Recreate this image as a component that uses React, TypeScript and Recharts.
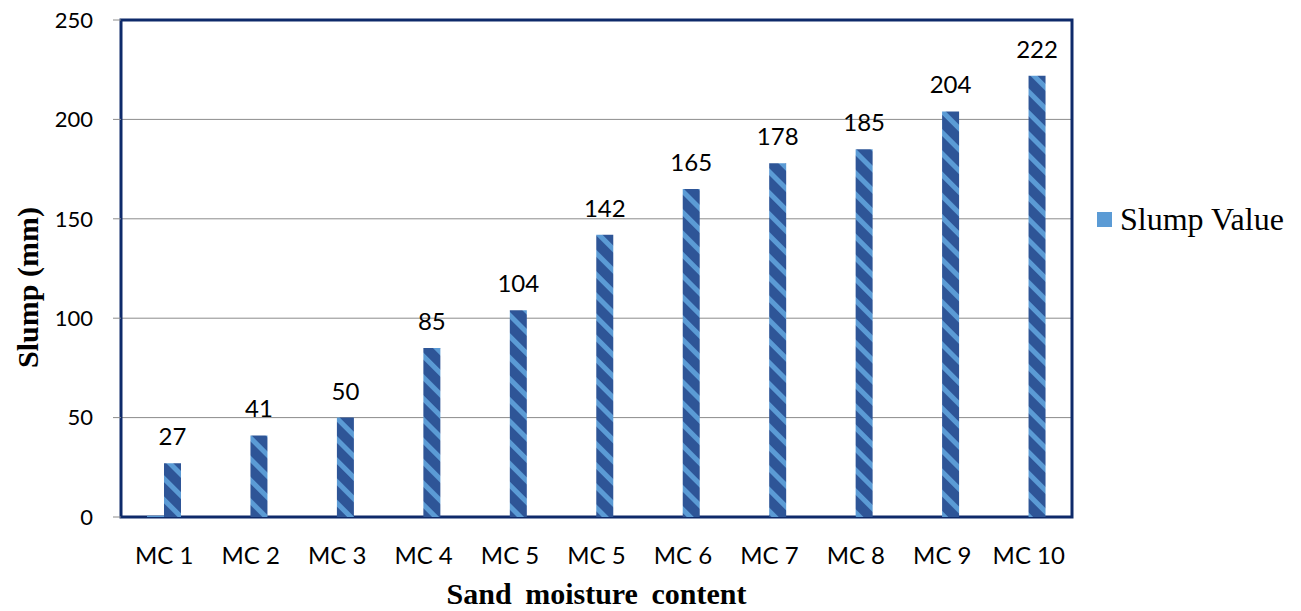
import React from 'react';
import { BarChart, Bar, XAxis, YAxis, CartesianGrid, Legend, LabelList, ReferenceArea } from 'recharts';

const categories = ['MC 1', 'MC 2', 'MC 3', 'MC 4', 'MC 5', 'MC 5', 'MC 6', 'MC 7', 'MC 8', 'MC 9', 'MC 10'];
const slumpValues = [27, 41, 50, 85, 104, 142, 165, 178, 185, 204, 222];
// first (unnamed) series is empty apart from a sliver on MC 1
const blankValues = [0.6, 0, 0, 0, 0, 0, 0, 0, 0, 0, 0];
const yTicks = [0, 50, 100, 150, 200, 250];

const NAVY = '#0E2A6A';
const DARK = '#2E5597';
const LIGHT = '#5B9BD5';
const GRID = '#8C8C8C';
const SANS = 'Lato, "Open Sans", sans-serif';
const SERIF = '"Liberation Serif", "Times New Roman", serif';

const data = categories.map((name, i) => ({
  name,
  blank: blankValues[i],
  slump: slumpValues[i],
}));

const SlumpLegend = () => (
  <div style={{ display: 'flex', alignItems: 'center', fontFamily: SERIF, fontSize: 32, color: '#000', whiteSpace: 'nowrap' }}>
    <span style={{ display: 'inline-block', width: 15, height: 15, background: LIGHT, marginRight: 8 }} />
    Slump Value
  </div>
);

const YTitle = ({ viewBox }: any) => {
  const cx = viewBox.x + 27;
  const cy = viewBox.y + viewBox.height / 2 + 19;
  return (
    <text
      x={cx}
      y={cy}
      transform={`rotate(-90 ${cx} ${cy})`}
      textAnchor="middle"
      dominantBaseline="central"
      fontFamily={SERIF}
      fontWeight="bold"
      fontSize={30}
      fill="#000"
    >
      Slump (mm)
    </text>
  );
};

const XTitle = ({ viewBox }: any) => (
  <text
    x={viewBox.x + viewBox.width / 2}
    y={viewBox.y + viewBox.height - 7}
    textAnchor="middle"
    fontFamily={SERIF}
    fontWeight="bold"
    fontSize={30}
    wordSpacing={6}
    fill="#000"
  >
    Sand moisture content
  </text>
);

const App: React.FC = () => (
  <div style={{ position: 'absolute', left: 0, top: 0, background: '#fff' }}>
    <BarChart
      width={1301}
      height={611}
      data={data}
      margin={{ top: 20, right: 229, bottom: 0, left: 0 }}
      barGap={0}
      barSize={17}
    >
      <defs>
        <pattern id="slumpStripes" patternUnits="userSpaceOnUse" width={15} height={15} patternTransform="rotate(-45)">
          <rect x={0} y={0} width={15} height={15} fill={DARK} />
          <rect x={0} y={0} width={5} height={15} fill={LIGHT} />
        </pattern>
      </defs>
      <CartesianGrid vertical={false} stroke={GRID} strokeWidth={1} />
      <XAxis
        dataKey="name"
        height={94}
        axisLine={false}
        tickLine={false}
        tickSize={10}
        tickMargin={20}
        tick={{ fill: '#000', fontFamily: SANS, fontSize: 24 }}
        interval={0}
        label={<XTitle />}
      />
      <YAxis
        width={121}
        domain={[0, 250]}
        ticks={yTicks}
        axisLine={false}
        tickLine={{ stroke: GRID }}
        tickSize={8}
        tickMargin={20}
        tick={{ fill: '#000', fontFamily: SANS, fontSize: 22 }}
        label={<YTitle />}
      />
      <Legend
        layout="vertical"
        align="center"
        verticalAlign="middle"
        content={<SlumpLegend />}
        wrapperStyle={{ left: 1097, top: 201, width: 204 }}
      />
      <Bar dataKey="blank" fill={LIGHT} legendType="none" isAnimationActive={false} />
      <Bar dataKey="slump" name="Slump Value" fill="url(#slumpStripes)" isAnimationActive={false}>
        <LabelList dataKey="slump" position="top" offset={18} fill="#000" fontFamily={SANS} fontSize={24} />
      </Bar>
      <ReferenceArea y1={0} y2={250} fill="none" stroke={NAVY} strokeWidth={3} ifOverflow="visible" />
    </BarChart>
  </div>
);

export default App;
